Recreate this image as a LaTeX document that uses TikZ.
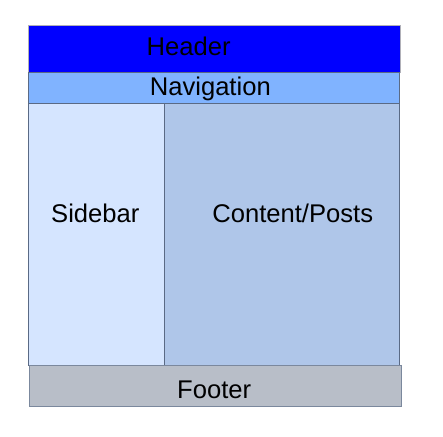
\documentclass[tikz,border=0pt]{standalone}
\usepackage{fontspec}
\setmainfont{Liberation Sans}
\definecolor{hdr}{HTML}{0000FF}
\definecolor{nav}{HTML}{80B3FF}
\definecolor{side}{HTML}{D5E5FF}
\definecolor{cont}{HTML}{AFC6E9}
\definecolor{foot}{HTML}{B8BEC8}
\definecolor{edge}{HTML}{5A6A85}
\definecolor{edgelt}{HTML}{B0B0B8}
\begin{document}
\begin{tikzpicture}[x=1pt,y=-1pt,
  box/.style={draw=edge,line width=0.8pt},
  lbl/.style={anchor=base,inner sep=0pt,font=\fontsize{25.6}{29}\selectfont,text=black}]
\useasboundingbox (0,0) rectangle (443,436);
\fill[white] (0,0) rectangle (443,436);
\path[box,fill=side] (28,103) rectangle (164,365);
\path[box,fill=cont] (164,103) rectangle (399,365);
\path[box,fill=foot,draw=edge!80] (29,365) rectangle (401,406.5);
\path[box,fill=nav] (28,72.3) rectangle (399,103);
\path[fill=hdr,draw=edgelt,line width=0.8pt] (28.3,25.7) rectangle (400,72.3);
\draw[edge,line width=0.8pt] (28.3,72.3) -- (400,72.3);
\node[lbl] (header) at (188.7,55) {Header};
\node[lbl] (navigation) at (210.3,95.5) {Navigation};
\node[lbl] (sidebar) at (95.3,222.3) {Sidebar};
\node[lbl] (content) at (292.7,222.3) {Content/Posts};
\node[lbl] (footer) at (214.2,398) {Footer};
\end{tikzpicture}
\end{document}
